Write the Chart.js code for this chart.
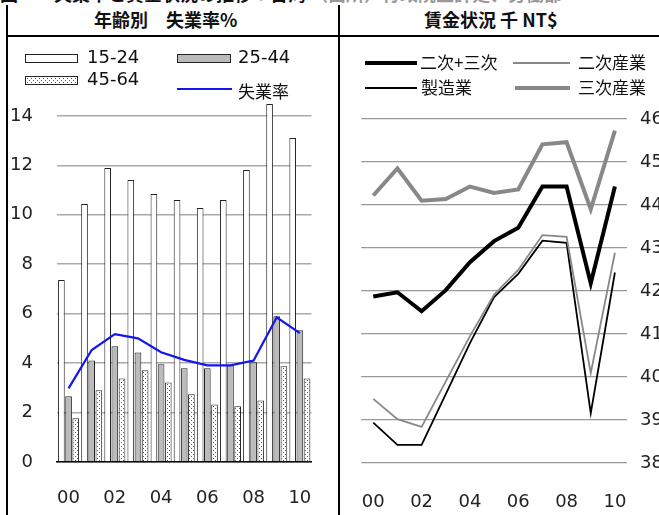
<!DOCTYPE html>
<html>
<head>
<meta charset="utf-8">
<script src="https://cdn.jsdelivr.net/npm/chart.js@4.4.1/dist/chart.umd.min.js"></script>
<style>
html, body { margin: 0; padding: 0; background: #fff; width: 659px; height: 515px; overflow: hidden; }
body { position: relative; font-family: "DejaVu Sans", "Noto Sans CJK JP", sans-serif; color: #111; }
.abs { position: absolute; }
.topline { left: 0; top: -20px; font-size: 18px; font-weight: bold; white-space: nowrap; font-family: "Noto Sans CJK JP", sans-serif; }
.vline { background: #000; width: 2px; }
.hline { background: #000; height: 2px; }
.head { top: 6px; font-size: 18px; font-weight: bold; white-space: nowrap; font-family: "Noto Sans CJK JP", sans-serif; }
.lg { font-size: 18px; white-space: nowrap; line-height: 20px; }
.lgj { font-family: "Noto Sans CJK JP", sans-serif; font-size: 17px; }
.sw { height: 7px; border: 1px solid #222; }
</style>
</head>
<body>
<div class="abs topline">図　　失業率と賃金状況の推移：台湾 <span style="color:#999">（出所）行政院主計処、労働部</span></div>

<div class="abs vline" style="left:6px;top:5px;height:510px;"></div>
<div class="abs vline" style="left:338px;top:5px;height:510px;"></div>
<div class="abs hline" style="left:6px;top:35px;width:660px;"></div>

<div class="abs head" style="left:94px;">年齢別　失業率%</div>
<div class="abs head" style="left:424px;">賃金状況 千 NT$</div>

<canvas id="ageChart" class="abs" style="left:8px;top:37px;"></canvas>
<canvas id="wageChart" class="abs" style="left:340px;top:37px;"></canvas>

<!-- left legend -->
<div class="abs sw" style="left:25px;top:54px;width:51px;background:#fff;"></div>
<div class="abs lg" style="left:87px;top:47px;">15-24</div>
<div class="abs sw" style="left:177px;top:54px;width:52px;background:#bbb;"></div>
<div class="abs lg" style="left:238px;top:47px;">25-44</div>
<div class="abs sw" id="dotSwatch" style="left:25px;top:76px;width:51px;"></div>
<div class="abs lg" style="left:87px;top:69px;">45-64</div>
<div class="abs" style="left:177px;top:88px;width:55px;height:2px;background:#1515f0;"></div>
<div class="abs lg lgj" style="left:238px;top:81px;">失業率</div>

<!-- right legend -->
<div class="abs" style="left:365px;top:61px;width:52px;height:4px;background:#000;"></div>
<div class="abs lg lgj" style="left:420px;top:52px;">二次+三次</div>
<div class="abs" style="left:513px;top:62px;width:57px;height:2px;background:#888;"></div>
<div class="abs lg lgj" style="left:578px;top:52px;">二次産業</div>
<div class="abs" style="left:365px;top:87px;width:52px;height:2px;background:#000;"></div>
<div class="abs lg lgj" style="left:421px;top:77px;">製造業</div>
<div class="abs" style="left:515px;top:86px;width:55px;height:4px;background:#888;"></div>
<div class="abs lg lgj" style="left:578px;top:77px;">三次産業</div>

<script>
// years 2000-2010
const years = ['00', '01', '02', '03', '04', '05', '06', '07', '08', '09', '10'];

// unemployment by age (%)
const age1524 = [7.36, 10.43, 11.89, 11.40, 10.84, 10.60, 10.27, 10.60, 11.81, 14.48, 13.10];
const age2544 = [2.66, 4.11, 4.68, 4.43, 3.95, 3.79, 3.79, 3.90, 4.03, 5.89, 5.33];
const age4564 = [1.77, 2.90, 3.38, 3.71, 3.22, 2.74, 2.33, 2.25, 2.49, 3.87, 3.38];
const unempRate = [2.98, 4.53, 5.17, 5.00, 4.44, 4.13, 3.91, 3.91, 4.10, 5.85, 5.21];
const ageTicks = [0, 2, 4, 6, 8, 10, 12, 14];

// monthly wages (thousand NT$)
const wageTotal = [41.87, 41.97, 41.53, 42.02, 42.67, 43.16, 43.47, 44.43, 44.43, 42.18, 44.43];
const wageIndustry = [39.49, 39.02, 38.84, 39.90, 40.95, 41.92, 42.49, 43.30, 43.26, 40.09, 42.89];
const wageMfg = [38.94, 38.42, 38.42, 39.60, 40.79, 41.86, 42.40, 43.17, 43.12, 39.16, 42.43];
const wageService = [44.22, 44.85, 44.10, 44.14, 44.43, 44.28, 44.36, 45.41, 45.46, 43.90, 45.73];

const numFont = { family: 'DejaVu Sans', size: 18 };

// dotted fill used for the 45-64 bars
function makeDots() {
    const c = document.createElement('canvas');
    c.width = 4; c.height = 4;
    const g = c.getContext('2d');
    g.fillStyle = '#fff';
    g.fillRect(0, 0, 4, 4);
    g.fillStyle = '#555';
    g.fillRect(1, 1, 1, 1);
    g.fillRect(3, 3, 1, 1);
    return c;
}
const dotCanvas = makeDots();
document.getElementById('dotSwatch').style.background = 'url(' + dotCanvas.toDataURL() + ')';

function setSize(id, w, h) {
    const el = document.getElementById(id);
    el.width = w; el.height = h;
    el.style.width = w + 'px'; el.style.height = h + 'px';
    return el.getContext('2d');
}

const evenLabel = (v, i) => (i % 2 === 0 ? years[i] : '');

// ---- left chart ----
const ctxA = setSize('ageChart', 330, 478);
const dotPattern = ctxA.createPattern(dotCanvas, 'repeat');

const barStyle = { borderColor: '#222', borderWidth: 1, barPercentage: 0.93, categoryPercentage: 0.93, order: 1 };

new Chart(ctxA, {
    type: 'bar',
    data: {
        labels: years,
        datasets: [
            Object.assign({ label: '15-24', data: age1524, backgroundColor: '#fff' }, barStyle),
            Object.assign({ label: '25-44', data: age2544, backgroundColor: '#bbb' }, barStyle),
            Object.assign({ label: '45-64', data: age4564, backgroundColor: dotPattern }, barStyle),
            {
                type: 'line',
                label: '失業率',
                data: unempRate,
                borderColor: '#1515f0',
                borderWidth: 2.2,
                pointRadius: 0,
                tension: 0,
                order: 0
            }
        ]
    },
    options: {
        responsive: false,
        animation: false,
        layout: { padding: { top: 64, right: 15, left: 0, bottom: 0 } },
        plugins: { legend: { display: false }, tooltip: { enabled: false } },
        scales: {
            x: {
                grid: { display: true, color: 'transparent', drawTicks: false },
                border: { display: true, color: '#000', width: 1.5 },
                ticks: { callback: evenLabel, autoSkip: false, maxRotation: 0, padding: 26, color: '#222', font: numFont },
                afterFit: (s) => { s.height = 53; }
            },
            y: {
                min: 0,
                max: 14.6,
                afterBuildTicks: (s) => { s.ticks = ageTicks.map(v => ({ value: v })); },
                grid: { color: '#aaa', lineWidth: 1.5, drawTicks: false },
                border: { display: false },
                ticks: { padding: 24, color: '#222', font: numFont },
                afterFit: (s) => { s.width = 49; }
            }
        }
    }
});

// ---- right chart ----
const ctxB = setSize('wageChart', 340, 478);

function wageLine(label, data, color, width) {
    return { label: label, data: data, borderColor: color, borderWidth: width, pointRadius: 0, tension: 0, fill: false };
}

new Chart(ctxB, {
    type: 'line',
    data: {
        labels: years,
        datasets: [
            wageLine('二次+三次', wageTotal, '#000', 4),
            wageLine('二次産業', wageIndustry, '#888', 1.8),
            wageLine('製造業', wageMfg, '#000', 1.8),
            wageLine('三次産業', wageService, '#888', 4)
        ]
    },
    options: {
        responsive: false,
        animation: false,
        layout: { padding: { top: 82, left: 18, right: 0, bottom: 0 } },
        plugins: { legend: { display: false }, tooltip: { enabled: false } },
        scales: {
            x: {
                offset: true,
                grid: { display: false },
                border: { display: false },
                ticks: { callback: evenLabel, autoSkip: false, maxRotation: 0, padding: 21, color: '#222', font: numFont },
                afterFit: (s) => { s.height = 52; }
            },
            y: {
                position: 'right',
                min: 38,
                max: 46,
                ticks: { stepSize: 1, padding: 13, color: '#222', font: numFont },
                grid: { color: '#999', lineWidth: 1.2, drawTicks: false },
                border: { display: false },
                afterFit: (s) => { s.width = 53; }
            }
        }
    }
});
</script>
</body>
</html>
